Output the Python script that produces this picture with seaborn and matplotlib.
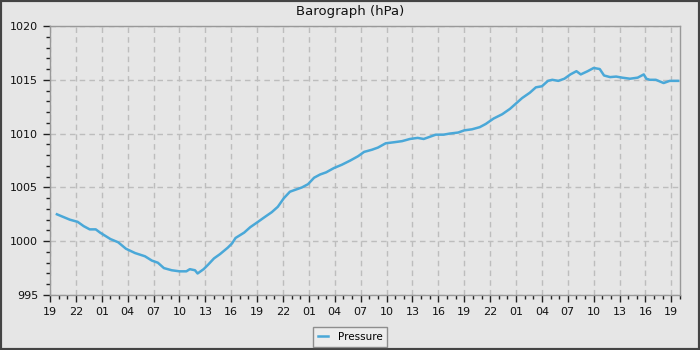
import pandas as pd
import matplotlib
matplotlib.use("Agg")
import matplotlib.pyplot as plt
import seaborn as sns
from matplotlib.ticker import MultipleLocator, FuncFormatter
from matplotlib.patches import Rectangle

# hours since 19:00 on the first day, and pressure in hPa
hours = [0.8, 1.4, 2.3, 3.2, 3.9, 4.6, 5.3, 5.8, 7.0, 7.9, 8.8, 9.852, 11.0, 11.8,
         12.5, 13.2, 14.1, 15.0, 15.8, 16.2, 16.8, 17.1, 17.8, 18.3, 19.0, 19.7,
         20.6, 21.1, 21.5, 22.5, 23.2, 24.1, 24.8, 25.7, 26.4, 27.1, 27.8, 28.5,
         29.2, 29.9, 30.6, 31.3, 32.0, 32.9, 33.8, 34.8, 35.7, 36.4, 37.3, 38.0,
         38.9, 39.9, 40.8, 41.7, 42.6, 43.3, 44.0, 44.7, 45.6, 46.3, 47.3, 48.0,
         48.9, 49.8, 50.5, 51.4, 52.4, 53.3, 54.0, 54.7, 55.6, 56.3, 57.0, 57.7,
         58.2, 58.9, 59.6, 60.3, 61.0, 61.5, 62.3, 63.0, 63.7, 64.2, 64.9, 65.6,
         66.3, 67.2, 68.1, 68.8, 69.1, 69.5, 70.2, 71.1, 71.8, 72.8]
pressure = [1002.5, 1002.3, 1002.0, 1001.8, 1001.4, 1001.1, 1001.1, 1000.8, 1000.2, 999.9,
            999.3, 998.9, 998.6, 998.2, 998.0, 997.5, 997.3, 997.2, 997.2, 997.4,
            997.3, 997.0, 997.4, 997.8, 998.4, 998.8, 999.4, 999.8, 1000.3, 1000.8,
            1001.3, 1001.8, 1002.2, 1002.7, 1003.2, 1004.0, 1004.6, 1004.8, 1005.0, 1005.3,
            1005.9, 1006.2, 1006.4, 1006.8, 1007.1, 1007.5, 1007.9, 1008.3, 1008.5, 1008.7,
            1009.1, 1009.2, 1009.3, 1009.5, 1009.6, 1009.5, 1009.7, 1009.9, 1009.9, 1010.0,
            1010.1, 1010.3, 1010.4, 1010.6, 1010.9, 1011.4, 1011.8, 1012.3, 1012.8, 1013.3,
            1013.8, 1014.3, 1014.4, 1014.9, 1015.0, 1014.9, 1015.1, 1015.5, 1015.8, 1015.5,
            1015.8, 1016.1, 1016.0, 1015.4, 1015.25, 1015.3, 1015.2, 1015.1, 1015.2, 1015.5,
            1015.1, 1015.0, 1015.0, 1014.7, 1014.9, 1014.9]
start_hour = 19

df = pd.DataFrame({"hour": hours, "pressure": pressure})

bg = "#e6e6e6"
fig = plt.figure(figsize=(7, 3.5), dpi=100, facecolor=bg)
ax = fig.add_axes([50 / 700, 55 / 350, 630 / 700, 269 / 350])
ax.set_facecolor(bg)

sns.lineplot(data=df, x="hour", y="pressure", ax=ax, color="#4aa8d8",
             linewidth=1.8, label="Pressure", legend=False)

ax.set_xlim(0, 73)
ax.set_ylim(995, 1020)
ax.xaxis.set_major_locator(MultipleLocator(3))
ax.xaxis.set_minor_locator(MultipleLocator(1))
ax.yaxis.set_major_locator(MultipleLocator(5))
ax.yaxis.set_minor_locator(MultipleLocator(1))
ax.xaxis.set_major_formatter(FuncFormatter(lambda v, p: f"{int(round(v + start_hour)) % 24:02d}"))
ax.yaxis.set_major_formatter(FuncFormatter(lambda v, p: f"{int(v)}"))
ax.tick_params(which="major", length=5, width=1, color="#222222", labelsize=8, labelcolor="#111111")
ax.tick_params(which="minor", length=3, width=1, color="#222222")
ax.grid(True, which="major", linestyle=(0, (4, 3)), color="#bdbdbd", linewidth=1)
for s in ax.spines.values():
    s.set_color("#999999")
    s.set_linewidth(1)
ax.set_xlabel("")
ax.set_ylabel("")

# title is centred on the whole figure, not on the axes
fig.text(0.5, 1 - 12 / 350, "Barograph (hPa)", ha="center", va="center",
         fontsize=9.5, color="#111111")

handles, labels = ax.get_legend_handles_labels()
leg = fig.legend(handles, labels, loc="center", bbox_to_anchor=(0.5, 13 / 350),
                 fontsize=7.5, frameon=True, fancybox=False, handlelength=1.0,
                 borderpad=0.45, handletextpad=0.9, borderaxespad=0)
leg.get_frame().set_facecolor("#eeeeee")
leg.get_frame().set_edgecolor("#777777")
leg.get_frame().set_linewidth(1)

fig.patches.append(Rectangle((0, 0), 1, 1, transform=fig.transFigure, fill=False,
                             edgecolor="#444444", linewidth=3))

fig.savefig("out.png", dpi=100, facecolor=bg)
